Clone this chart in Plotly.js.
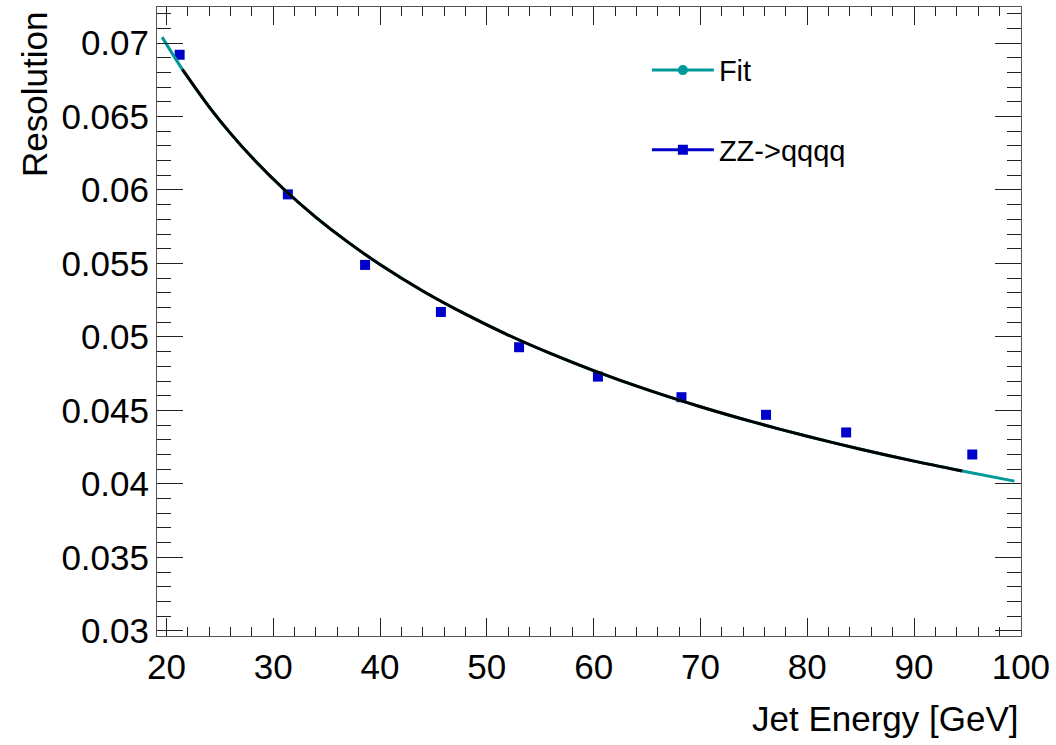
<!DOCTYPE html>
<html><head><meta charset="utf-8">
<script src="https://cdn.plot.ly/plotly-3.0.1.min.js"></script>
<style>html,body{margin:0;padding:0;background:#fff}</style>
</head><body>
<div id="chart" style="width:1056px;height:745px"></div>
<script>
// Measured points (ZZ->qqqq)
const energy = [21.24, 31.37, 38.6, 45.7, 53.02, 60.4, 68.22, 76.14, 83.64, 95.45];
const resolution = [0.0692, 0.0597, 0.0549, 0.0517, 0.0493, 0.0473, 0.0459, 0.0447, 0.0435, 0.0420];
// Fit curve (teal)
const fitE = [19.6, 21.5, 24, 26, 28, 31, 34, 37, 40, 44, 48, 52, 56, 60, 65, 70, 75, 80, 85, 90, 95, 99.4];
const fitRes = [0.07040, 0.06820, 0.06565, 0.06385, 0.06222, 0.06005, 0.05814, 0.05645, 0.05493, 0.05313, 0.05155, 0.05013, 0.04886, 0.04771, 0.04641, 0.04525, 0.04420, 0.04324, 0.04236, 0.04155, 0.04081, 0.04019];
// Fit drawn on the graph (black)
const graphFitE = [21.5, 24, 26, 28, 31, 34, 37, 40, 44, 48, 52, 56, 60, 65, 70, 75, 80, 85, 90, 94.5];
const graphFitRes = [0.06820, 0.06565, 0.06385, 0.06222, 0.06005, 0.05814, 0.05645, 0.05493, 0.05313, 0.05155, 0.05013, 0.04886, 0.04771, 0.04641, 0.04525, 0.04420, 0.04324, 0.04236, 0.04155, 0.04088];

const xTitle = 'Jet Energy [GeV]';
const yTitle = 'Resolution';
const fitName = 'Fit';
const dataName = 'ZZ->qqqq';

const FONT = 'Liberation Sans, Arial, Helvetica, sans-serif';

// isolated points so the legend shows line+marker while no line joins the points
const dataX = [], dataY = [];
energy.forEach((e, i) => { dataX.push(e, null); dataY.push(resolution[i], null); });

const traces = [
  {
    x: dataX, y: dataY, type: 'scatter', mode: 'lines+markers', name: dataName,
    connectgaps: false, legendgroup: 'b', legendrank: 2,
    line: {color: '#0000cc', width: 3},
    marker: {symbol: 'square', size: 10, color: '#0000cc'},
    hoverinfo: 'x+y'
  },
  {
    x: fitE, y: fitRes, type: 'scatter', mode: 'lines+markers', name: fitName,
    legendgroup: 'a', legendrank: 1,
    line: {color: '#009999', width: 3, shape: 'spline', smoothing: 0.8},
    marker: {symbol: 'circle', size: 10, color: '#009999'},
    selectedpoints: [], unselected: {marker: {opacity: 0}}
  },
  {
    x: graphFitE, y: graphFitRes, type: 'scatter', mode: 'lines', showlegend: false,
    line: {color: '#000000', width: 3, shape: 'spline', smoothing: 0.8}
  }
];

const axisCommon = {
  ticks: 'inside', tickwidth: 1, tickcolor: '#222',
  showline: true, linecolor: '#555', linewidth: 1, mirror: 'allticks',
  showgrid: false, zeroline: false,
  tickfont: {family: FONT, size: 35, color: '#000'}
};

const layout = {
  width: 1056, height: 745,
  margin: {l: 157, r: 35, t: 7, b: 109, pad: 0},
  paper_bgcolor: '#ffffff', plot_bgcolor: '#ffffff',
  font: {family: FONT, color: '#000'},
  showlegend: true,
  legend: {
    x: 0.567, y: 0.94, xanchor: 'left', yanchor: 'top',
    font: {family: FONT, size: 29, color: '#000'},
    tracegroupgap: 39, itemwidth: 62, bgcolor: 'rgba(0,0,0,0)', borderwidth: 0
  },
  xaxis: Object.assign({}, axisCommon, {
    range: [19.12, 100.01], tick0: 0, dtick: 10, ticklen: 18,
    minor: {tick0: 0, dtick: 2, ticks: 'inside', ticklen: 9, tickwidth: 1, tickcolor: '#222', showgrid: false}
  }),
  yaxis: Object.assign({}, axisCommon, {
    range: [0.02965, 0.07245], tick0: 0, dtick: 0.005, ticklen: 26,
    minor: {tick0: 0, dtick: 0.001, ticks: 'inside', ticklen: 14, tickwidth: 1, tickcolor: '#222', showgrid: false}
  }),
  annotations: [
    {text: xTitle, xref: 'paper', yref: 'paper', x: 1, y: -0.1304, xanchor: 'right', yanchor: 'middle',
     showarrow: false, font: {family: FONT, size: 35, color: '#000'}},
    {text: yTitle, xref: 'paper', yref: 'paper', x: -0.142, y: 0.995, xanchor: 'center', yanchor: 'top',
     textangle: -90, showarrow: false, font: {family: FONT, size: 35, color: '#000'}}
  ]
};

Plotly.newPlot('chart', traces, layout, {displayModeBar: false, staticPlot: true});
</script>
</body></html>
